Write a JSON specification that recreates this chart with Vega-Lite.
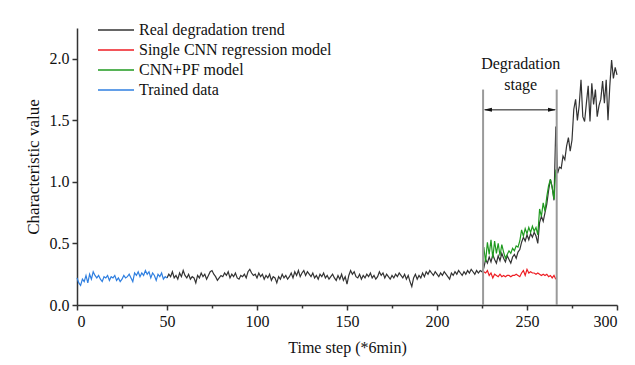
{
  "$schema": "https://vega.github.io/schema/vega-lite/v6.json",
  "width": 540,
  "height": 277,
  "autosize": {"type": "none"},
  "padding": {"left": 77, "top": 28, "right": 18, "bottom": 60},
  "background": "white",
  "config": {
    "view": {"stroke": null},
    "font": "Liberation Serif"
  },
  "datasets": {
    "trained": [
      {"t":0,"v":0.22},{"t":1,"v":0.18},{"t":2,"v":0.16},{"t":3,"v":0.21},{"t":4,"v":0.19},{"t":5,"v":0.24},{"t":6,"v":0.18},{"t":7,"v":0.25},{"t":8,"v":0.21},{"t":9,"v":0.27},
      {"t":10,"v":0.24},{"t":11,"v":0.22},{"t":12,"v":0.24},{"t":13,"v":0.21},{"t":14,"v":0.19},{"t":15,"v":0.23},{"t":16,"v":0.22},{"t":17,"v":0.24},{"t":18,"v":0.2},{"t":19,"v":0.23},
      {"t":20,"v":0.22},{"t":21,"v":0.24},{"t":22,"v":0.2},{"t":23,"v":0.22},{"t":24,"v":0.19},{"t":25,"v":0.21},{"t":26,"v":0.24},{"t":27,"v":0.22},{"t":28,"v":0.23},{"t":29,"v":0.25},
      {"t":30,"v":0.22},{"t":31,"v":0.19},{"t":32,"v":0.26},{"t":33,"v":0.24},{"t":34,"v":0.27},{"t":35,"v":0.23},{"t":36,"v":0.26},{"t":37,"v":0.24},{"t":38,"v":0.28},{"t":39,"v":0.25},
      {"t":40,"v":0.27},{"t":41,"v":0.22},{"t":42,"v":0.26},{"t":43,"v":0.24},{"t":44,"v":0.2},{"t":45,"v":0.25},{"t":46,"v":0.23},{"t":47,"v":0.26},{"t":48,"v":0.21},{"t":49,"v":0.23},
      {"t":50,"v":0.22}
    ],
    "real": [
      {"t":50,"v":0.22},{"t":51,"v":0.25},{"t":52,"v":0.23},{"t":53,"v":0.27},{"t":54,"v":0.22},{"t":55,"v":0.24},{"t":56,"v":0.21},{"t":57,"v":0.26},{"t":58,"v":0.23},{"t":59,"v":0.28},
      {"t":60,"v":0.24},{"t":61,"v":0.22},{"t":62,"v":0.25},{"t":63,"v":0.21},{"t":64,"v":0.23},{"t":65,"v":0.22},{"t":66,"v":0.18},{"t":67,"v":0.24},{"t":68,"v":0.22},{"t":69,"v":0.26},
      {"t":70,"v":0.23},{"t":71,"v":0.25},{"t":72,"v":0.21},{"t":73,"v":0.24},{"t":74,"v":0.27},{"t":75,"v":0.28},{"t":76,"v":0.25},{"t":77,"v":0.23},{"t":78,"v":0.2},{"t":79,"v":0.22},
      {"t":80,"v":0.24},{"t":81,"v":0.23},{"t":82,"v":0.26},{"t":83,"v":0.24},{"t":84,"v":0.27},{"t":85,"v":0.22},{"t":86,"v":0.25},{"t":87,"v":0.23},{"t":88,"v":0.26},{"t":89,"v":0.22},
      {"t":90,"v":0.21},{"t":91,"v":0.24},{"t":92,"v":0.23},{"t":93,"v":0.25},{"t":94,"v":0.22},{"t":95,"v":0.27},{"t":96,"v":0.29},{"t":97,"v":0.26},{"t":98,"v":0.24},{"t":99,"v":0.25},
      {"t":100,"v":0.22},{"t":101,"v":0.26},{"t":102,"v":0.23},{"t":103,"v":0.25},{"t":104,"v":0.21},{"t":105,"v":0.24},{"t":106,"v":0.22},{"t":107,"v":0.25},{"t":108,"v":0.2},{"t":109,"v":0.23},
      {"t":110,"v":0.22},{"t":111,"v":0.18},{"t":112,"v":0.23},{"t":113,"v":0.21},{"t":114,"v":0.25},{"t":115,"v":0.22},{"t":116,"v":0.24},{"t":117,"v":0.21},{"t":118,"v":0.23},{"t":119,"v":0.26},
      {"t":120,"v":0.22},{"t":121,"v":0.27},{"t":122,"v":0.24},{"t":123,"v":0.28},{"t":124,"v":0.23},{"t":125,"v":0.26},{"t":126,"v":0.28},{"t":127,"v":0.24},{"t":128,"v":0.27},{"t":129,"v":0.25},
      {"t":130,"v":0.23},{"t":131,"v":0.26},{"t":132,"v":0.22},{"t":133,"v":0.24},{"t":134,"v":0.21},{"t":135,"v":0.25},{"t":136,"v":0.23},{"t":137,"v":0.26},{"t":138,"v":0.22},{"t":139,"v":0.24},
      {"t":140,"v":0.21},{"t":141,"v":0.23},{"t":142,"v":0.25},{"t":143,"v":0.22},{"t":144,"v":0.2},{"t":145,"v":0.24},{"t":146,"v":0.21},{"t":147,"v":0.25},{"t":148,"v":0.2},{"t":149,"v":0.23},
      {"t":150,"v":0.17},{"t":151,"v":0.24},{"t":152,"v":0.28},{"t":153,"v":0.25},{"t":154,"v":0.27},{"t":155,"v":0.23},{"t":156,"v":0.22},{"t":157,"v":0.25},{"t":158,"v":0.21},{"t":159,"v":0.24},
      {"t":160,"v":0.22},{"t":161,"v":0.25},{"t":162,"v":0.23},{"t":163,"v":0.26},{"t":164,"v":0.22},{"t":165,"v":0.24},{"t":166,"v":0.21},{"t":167,"v":0.23},{"t":168,"v":0.27},{"t":169,"v":0.24},
      {"t":170,"v":0.26},{"t":171,"v":0.22},{"t":172,"v":0.25},{"t":173,"v":0.23},{"t":174,"v":0.21},{"t":175,"v":0.24},{"t":176,"v":0.22},{"t":177,"v":0.25},{"t":178,"v":0.23},{"t":179,"v":0.26},
      {"t":180,"v":0.24},{"t":181,"v":0.22},{"t":182,"v":0.25},{"t":183,"v":0.21},{"t":184,"v":0.24},{"t":185,"v":0.19},{"t":186,"v":0.15},{"t":187,"v":0.22},{"t":188,"v":0.25},{"t":189,"v":0.21},
      {"t":190,"v":0.24},{"t":191,"v":0.22},{"t":192,"v":0.26},{"t":193,"v":0.23},{"t":194,"v":0.27},{"t":195,"v":0.25},{"t":196,"v":0.28},{"t":197,"v":0.26},{"t":198,"v":0.24},{"t":199,"v":0.27},
      {"t":200,"v":0.25},{"t":201,"v":0.23},{"t":202,"v":0.26},{"t":203,"v":0.24},{"t":204,"v":0.27},{"t":205,"v":0.25},{"t":206,"v":0.23},{"t":207,"v":0.21},{"t":208,"v":0.26},{"t":209,"v":0.24},
      {"t":210,"v":0.27},{"t":211,"v":0.25},{"t":212,"v":0.28},{"t":213,"v":0.26},{"t":214,"v":0.24},{"t":215,"v":0.27},{"t":216,"v":0.25},{"t":217,"v":0.28},{"t":218,"v":0.26},{"t":219,"v":0.29},
      {"t":220,"v":0.27},{"t":221,"v":0.25},{"t":222,"v":0.28},{"t":223,"v":0.26},{"t":224,"v":0.28},{"t":225,"v":0.27},{"t":226,"v":0.3},{"t":227,"v":0.37},{"t":228,"v":0.34},{"t":229,"v":0.39},
      {"t":230,"v":0.35},{"t":231,"v":0.41},{"t":232,"v":0.37},{"t":233,"v":0.34},{"t":234,"v":0.4},{"t":235,"v":0.36},{"t":236,"v":0.42},{"t":237,"v":0.38},{"t":238,"v":0.35},{"t":239,"v":0.4},
      {"t":240,"v":0.37},{"t":241,"v":0.34},{"t":242,"v":0.39},{"t":243,"v":0.41},{"t":244,"v":0.38},{"t":245,"v":0.43},{"t":246,"v":0.45},{"t":247,"v":0.51},{"t":248,"v":0.55},{"t":249,"v":0.52},
      {"t":250,"v":0.57},{"t":251,"v":0.53},{"t":252,"v":0.58},{"t":253,"v":0.55},{"t":254,"v":0.59},{"t":255,"v":0.56},{"t":256,"v":0.5},{"t":257,"v":0.67},{"t":258,"v":0.72},{"t":259,"v":0.68},
      {"t":260,"v":0.75},{"t":261,"v":0.82},{"t":262,"v":0.93},{"t":263,"v":1.02},{"t":264,"v":0.96},{"t":265,"v":0.85},{"t":266,"v":1.45},{"t":267,"v":1.07},{"t":268,"v":1.12},{"t":269,"v":1.11},
      {"t":270,"v":1.21},{"t":271,"v":1.18},{"t":272,"v":1.29},{"t":273,"v":1.36},{"t":274,"v":1.25},{"t":275,"v":1.34},{"t":276,"v":1.59},{"t":277,"v":1.67},{"t":278,"v":1.5},{"t":279,"v":1.62},
      {"t":280,"v":1.83},{"t":281,"v":1.53},{"t":282,"v":1.49},{"t":283,"v":1.64},{"t":284,"v":1.78},{"t":285,"v":1.49},{"t":286,"v":1.8},{"t":287,"v":1.63},{"t":288,"v":1.75},{"t":289,"v":1.53},
      {"t":290,"v":1.62},{"t":291,"v":1.67},{"t":292,"v":1.82},{"t":293,"v":1.64},{"t":294,"v":1.83},{"t":295,"v":1.5},{"t":296,"v":1.78},{"t":297,"v":1.99},{"t":298,"v":1.84},{"t":299,"v":1.93},
      {"t":300,"v":1.87}
    ],
    "cnn": [
      {"t":226,"v":0.27},{"t":227,"v":0.26},{"t":228,"v":0.28},{"t":229,"v":0.24},{"t":230,"v":0.26},{"t":231,"v":0.22},{"t":232,"v":0.25},{"t":233,"v":0.24},{"t":234,"v":0.23},{"t":235,"v":0.25},
      {"t":236,"v":0.23},{"t":237,"v":0.24},{"t":238,"v":0.23},{"t":239,"v":0.24},{"t":240,"v":0.24},{"t":241,"v":0.23},{"t":242,"v":0.24},{"t":243,"v":0.24},{"t":244,"v":0.25},{"t":245,"v":0.24},
      {"t":246,"v":0.23},{"t":247,"v":0.26},{"t":248,"v":0.28},{"t":249,"v":0.24},{"t":250,"v":0.29},{"t":251,"v":0.26},{"t":252,"v":0.27},{"t":253,"v":0.26},{"t":254,"v":0.26},{"t":255,"v":0.25},
      {"t":256,"v":0.26},{"t":257,"v":0.25},{"t":258,"v":0.24},{"t":259,"v":0.25},{"t":260,"v":0.24},{"t":261,"v":0.25},{"t":262,"v":0.23},{"t":263,"v":0.24},{"t":264,"v":0.22},{"t":265,"v":0.24},
      {"t":266,"v":0.21}
    ],
    "pf": [
      {"t":226,"v":0.47},{"t":227,"v":0.35},{"t":228,"v":0.51},{"t":229,"v":0.41},{"t":230,"v":0.53},{"t":231,"v":0.38},{"t":232,"v":0.52},{"t":233,"v":0.42},{"t":234,"v":0.5},{"t":235,"v":0.4},
      {"t":236,"v":0.49},{"t":237,"v":0.43},{"t":238,"v":0.38},{"t":239,"v":0.41},{"t":240,"v":0.44},{"t":241,"v":0.42},{"t":242,"v":0.46},{"t":243,"v":0.44},{"t":244,"v":0.48},{"t":245,"v":0.47},
      {"t":246,"v":0.52},{"t":247,"v":0.61},{"t":248,"v":0.56},{"t":249,"v":0.62},{"t":250,"v":0.58},{"t":251,"v":0.63},{"t":252,"v":0.59},{"t":253,"v":0.64},{"t":254,"v":0.6},{"t":255,"v":0.63},
      {"t":256,"v":0.57},{"t":257,"v":0.78},{"t":258,"v":0.72},{"t":259,"v":0.83},{"t":260,"v":0.76},{"t":261,"v":0.88},{"t":262,"v":0.97},{"t":263,"v":1.02},{"t":264,"v":0.95},{"t":265,"v":0.86},
      {"t":266,"v":1.1}
    ]
  },
  "layer": [
    {
      "data": {"name": "real"},
      "mark": {"type": "line", "strokeWidth": 1.2},
      "encoding": {
        "x": {
          "field": "t", "type": "quantitative",
          "scale": {"domain": [0, 300], "nice": false},
          "axis": {
            "title": "Time step (*6min)",
            "values": [0,25,50,75,100,125,150,175,200,225,250,275,300],
            "labelExpr": "datum.value % 50 == 0 ? datum.label : ''",
            "tickSize": {"condition": {"test": "datum.value % 50 != 0", "value": 3}, "value": 5},
            "grid": false,
            "domainColor": "#333", "domainWidth": 1.5, "tickColor": "#333", "tickWidth": 1.5,
            "labelFont": "Liberation Serif", "labelFontSize": 16, "labelColor": "#111", "labelPadding": 3,
            "titleFont": "Liberation Serif", "titleFontSize": 16, "titleFontWeight": "normal", "titleColor": "#111", "titlePadding": 10
          }
        },
        "y": {
          "field": "v", "type": "quantitative",
          "scale": {"domain": [0, 2.25], "nice": false, "zero": true},
          "axis": {
            "title": "Characteristic value",
            "values": [0,0.25,0.5,0.75,1,1.25,1.5,1.75,2,2.25],
            "labelExpr": "round(datum.value*100) % 50 == 0 ? format(datum.value, '.1f') : ''",
            "tickSize": {"condition": {"test": "round(datum.value*100) % 50 != 0", "value": 3}, "value": 5},
            "grid": false,
            "domainColor": "#333", "domainWidth": 1.5, "tickColor": "#333", "tickWidth": 1.5,
            "labelFont": "Liberation Serif", "labelFontSize": 16, "labelColor": "#111", "labelPadding": 3,
            "titleFont": "Liberation Serif", "titleFontSize": 17, "titleFontWeight": "normal", "titleColor": "#111", "titlePadding": 7
          }
        },
        "color": {
          "datum": "Real degradation trend",
          "scale": {
            "domain": ["Real degradation trend", "Single CNN regression model", "CNN+PF model", "Trained data"],
            "range": ["#333333", "#ee1d23", "#1f9a1f", "#2f7fe0"]
          },
          "legend": {
            "title": null, "orient": "none", "legendX": 20, "legendY": -7,
            "symbolType": "M -1 0 L 3.5 0", "symbolSize": 256, "symbolStrokeWidth": 1.3,
            "labelOffset": 24, "rowPadding": 3, "labelLimit": 400,
            "labelFont": "Liberation Serif", "labelFontSize": 16, "labelColor": "#111"
          }
        }
      }
    },
    {
      "data": {"name": "cnn"},
      "mark": {"type": "line", "strokeWidth": 1.2},
      "encoding": {
        "x": {"field": "t", "type": "quantitative"},
        "y": {"field": "v", "type": "quantitative"},
        "color": {"datum": "Single CNN regression model"}
      }
    },
    {
      "data": {"name": "pf"},
      "mark": {"type": "line", "strokeWidth": 1.2},
      "encoding": {
        "x": {"field": "t", "type": "quantitative"},
        "y": {"field": "v", "type": "quantitative"},
        "color": {"datum": "CNN+PF model"}
      }
    },
    {
      "data": {"name": "trained"},
      "mark": {"type": "line", "strokeWidth": 1.2},
      "encoding": {
        "x": {"field": "t", "type": "quantitative"},
        "y": {"field": "v", "type": "quantitative"},
        "color": {"datum": "Trained data"}
      }
    },
    {
      "data": {"values": [{"p": 225.6}, {"p": 266.5}]},
      "mark": {"type": "rule", "color": "#9a9a9a", "strokeWidth": 2},
      "encoding": {
        "x": {"field": "p", "type": "quantitative"},
        "y": {"datum": 0},
        "y2": {"datum": 1.75}
      }
    },
    {
      "data": {"values": [{}]},
      "mark": {"type": "rule", "color": "#111", "strokeWidth": 1},
      "encoding": {
        "x": {"datum": 226.5},
        "x2": {"datum": 265.6},
        "y": {"datum": 1.585}
      }
    },
    {
      "data": {"values": [{"p": 228.3, "d": "l"}, {"p": 263.9, "d": "r"}]},
      "mark": {"type": "point", "filled": true, "color": "#111", "opacity": 1, "size": 64},
      "encoding": {
        "x": {"field": "p", "type": "quantitative"},
        "y": {"datum": 1.585},
        "shape": {
          "field": "d", "type": "nominal",
          "scale": {"domain": ["l", "r"], "range": ["M -1 0 L 1 -0.5 L 1 0.5 Z", "M 1 0 L -1 -0.5 L -1 0.5 Z"]},
          "legend": null
        }
      }
    },
    {
      "data": {"values": [{"txt": "Degradation", "y": 1.96}, {"txt": "stage", "y": 1.79}]},
      "mark": {"type": "text", "font": "Liberation Serif", "fontSize": 16, "color": "#111", "baseline": "middle", "align": "center"},
      "encoding": {
        "x": {"datum": 246.5},
        "y": {"field": "y", "type": "quantitative"},
        "text": {"field": "txt"}
      }
    }
  ]
}
